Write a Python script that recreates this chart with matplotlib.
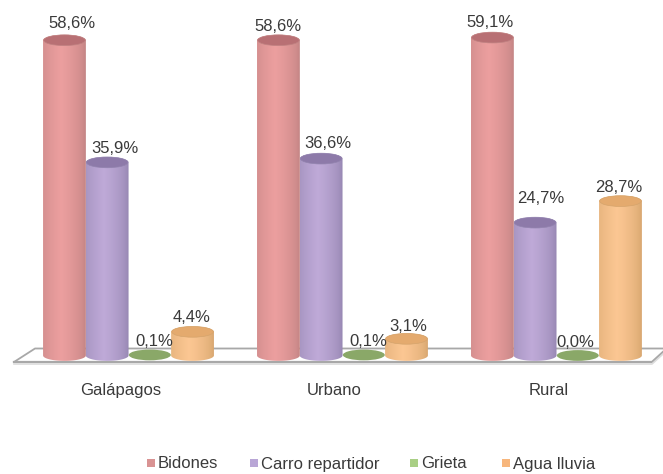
import numpy as np
import matplotlib
matplotlib.use("Agg")
import matplotlib.pyplot as plt
from matplotlib.patches import Ellipse, PathPatch, Rectangle
from matplotlib.path import Path
from matplotlib.lines import Line2D

categories = ["Galápagos", "Urbano", "Rural"]
series_names = ["Bidones", "Carro repartidor", "Grieta", "Agua lluvia"]
bidones = [58.6, 58.6, 59.1]
carro = [35.9, 36.6, 24.7]
grieta = [0.1, 0.1, 0.0]
agua = [4.4, 3.1, 28.7]
all_series = [bidones, carro, grieta, agua]

# styles: (edge, light centre, top cap)
styles = [("#c08282", "#ec9f9f", "#b87074"),
          ("#9283ae", "#bfaad8", "#8d7aa9"),
          ("#7f9c60", "#97b472", "#8aa868"),
          ("#d5a46c", "#fcc793", "#e4aa6e")]
legend_cols = ["#d99393", "#b9a6d6", "#a9cf85", "#f7b67c"]
# per-label nudges from the cap centre, in pixels (dx, dy up)
nudges = [[(7, 17), (8, 14), (4, 13), (-1, 14)],
          [(0, 14), (7, 15), (5, 13), (2, 12)],
          [(-2, 15), (6, 24), (-2, 13), (-2, 14)]]

W, H = 663, 474
fig = plt.figure(figsize=(W / 100, H / 100), dpi=100, facecolor="white")
ax = fig.add_axes([0, 0, 1, 1])
ax.set_xlim(-0.6005, 2.498)
ax.set_ylim(-22.03, 66.08)
ax.axis("off")
plt.rcParams["font.family"] = ["Liberation Sans", "DejaVu Sans"]
TXT = "#3a3a3a"
FS = 12


def px(x, y):
    return x / W, 1 - y / H


# floor
floor = [(14, 362), (35, 348.5), (663, 348.5)]
front = [(14, 362), (652, 362), (663, 352)]
for pts, c, lw, dy in [(floor, "#a8a8a8", 1.3, 0), (front, "#a8a8a8", 1.6, 0),
                       (front, "#dcdcdc", 1.2, 2)]:
    xs, ys = zip(*[px(a, b + dy) for a, b in pts])
    ax.add_line(Line2D(xs, ys, color=c, lw=lw, transform=ax.transAxes, zorder=1))

bw = 0.2
eh = 2.0
t = np.linspace(0, np.pi, 60)
u = np.linspace(0, 1, 128)
shade = np.clip(1 - np.abs(u - 0.42) / 0.58, 0, 1) ** 0.55
order = [(g, s) for g in range(3) for s in range(4)]
for g, s in order:
    v = all_series[s][g]
    xc = g + (s - 1.5) * 0.1995
    edge, mid, cap = [np.array(matplotlib.colors.to_rgb(c)) for c in styles[s]]
    z = 3 + s * 0.1
    if v >= 1:
        xv = np.r_[xc - bw / 2 * np.cos(t), xc + bw / 2 * np.cos(t)]
        yv = np.r_[-eh / 2 * np.sin(t), v + eh / 2 * np.sin(t)]
        clip = PathPatch(Path(np.c_[xv, yv]), fc="none", ec="none", transform=ax.transData)
        ax.add_patch(clip)
        grad = edge[None, None, :] + (mid - edge)[None, None, :] * shade[None, :, None]
        im = ax.imshow(grad, extent=(xc - bw / 2, xc + bw / 2, -eh, v + eh), aspect="auto", zorder=z)
        im.set_clip_path(clip)
        ax.add_patch(Ellipse((xc, v), bw * 0.97, eh, fc=cap, ec=edge, lw=0.5, zorder=z + 0.01))
    else:
        ax.add_patch(Ellipse((xc, v), bw * 0.98, eh, fc=styles[s][2], ec="none", zorder=z - 1))
    dx, dy = nudges[g][s]
    ax.annotate(f"{v:.1f}%".replace(".", ","), (xc, v), xytext=(dx * 0.72, dy * 0.72),
                textcoords="offset points", ha="center", va="center",
                fontsize=FS, color=TXT, zorder=6)
ax.set_xlim(-0.6005, 2.498)
ax.set_ylim(-22.03, 66.08)

for g, c in enumerate(categories):
    ax.annotate(c, (g, 0), xytext=(-8 * 0.72, -35 * 0.72), textcoords="offset points",
                ha="center", va="center", fontsize=FS, color=TXT)

# legend
for name, col, mx in zip(series_names, legend_cols, [147, 250, 410, 502]):
    x0, y0 = px(mx, 467)
    ax.add_patch(Rectangle((x0, y0), 8 / W, 8 / H, fc=col, ec="none", transform=ax.transAxes))
    x1, y1 = px(mx + 11, 464)
    ax.text(x1, y1, name, transform=ax.transAxes, ha="left", va="center", fontsize=FS, color=TXT)

fig.savefig("out.png", dpi=100, facecolor="white")
